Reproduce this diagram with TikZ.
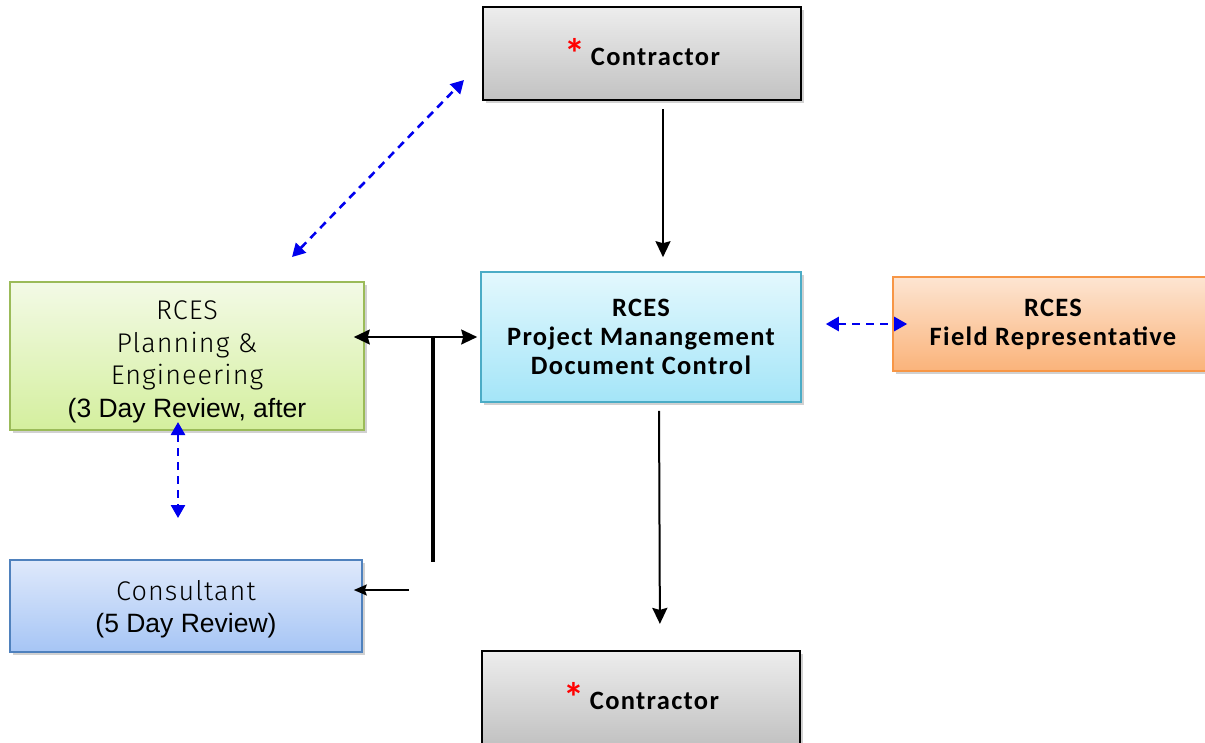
\documentclass[tikz,border=0pt]{standalone}
\usepackage{fontspec}
\setmainfont{Carlito}
\newfontfamily\bfont{Carlito}[LetterSpace=5]
\newfontfamily\lightfont{Fira Sans Light}[LetterSpace=4]
\newfontfamily\arialfont{Liberation Sans}
\usetikzlibrary{arrows.meta,shadows}
\definecolor{grayT}{HTML}{EDEDED}
\definecolor{grayB}{HTML}{C2C2C2}
\definecolor{greenT}{HTML}{F3FAE6}
\definecolor{greenB}{HTML}{D4EF9E}
\definecolor{greenD}{HTML}{9BBB59}
\definecolor{cyanT}{HTML}{E3F8FD}
\definecolor{cyanB}{HTML}{A4E5F8}
\definecolor{cyanD}{HTML}{4BACC6}
\definecolor{orT}{HTML}{FDE5D2}
\definecolor{orB}{HTML}{FAB37A}
\definecolor{orD}{HTML}{F79646}
\definecolor{blT}{HTML}{DFE9FB}
\definecolor{blB}{HTML}{A6C5F5}
\definecolor{blD}{HTML}{4F81BD}
\definecolor{dashblue}{HTML}{0000EE}
\begin{document}
\begin{tikzpicture}[x=1pt,y=-1pt,
  box/.style={rectangle, inner sep=0pt, align=center, line width=1.6pt,
    drop shadow={shadow xshift=2.5pt, shadow yshift=-3pt, opacity=0.3, fill=black!60}},
  ctrbox/.style={box, draw=black, line width=2.2pt, top color=grayT, bottom color=grayB,
    minimum width=318pt, minimum height=93pt},
  greenbox/.style={box, draw=greenD, top color=greenT, bottom color=greenB,
    minimum width=354pt, minimum height=148pt},
  cyanbox/.style={box, draw=cyanD, top color=cyanT, bottom color=cyanB,
    minimum width=320pt, minimum height=130pt},
  orbox/.style={box, draw=orD, top color=orT, bottom color=orB,
    minimum width=320pt, minimum height=94pt},
  blbox/.style={box, draw=blD, top color=blT, bottom color=blB,
    minimum width=352pt, minimum height=92pt},
  btxt/.style={font=\bfont\bfseries\fontsize{26.5}{29}\selectfont},
  ltxt/.style={font=\lightfont\fontsize{27}{32.5}\selectfont},
  bighead/.tip={Stealth[length=16pt,width=15pt,inset=2pt]},
  smallhead/.tip={Stealth[length=13pt,width=11pt,inset=2pt]},
  solidarrow/.style={line width=2pt, -bighead},
  dasharrow/.style={dashblue, line width=2.6pt, dash pattern=on 8pt off 6pt,
    {Triangle[length=13pt,width=14pt]}-{Triangle[length=13pt,width=14pt]}}
]
\useasboundingbox (0,0) rectangle (1205,742);

\newcommand{\ctrtext}{{\color{red}\fontsize{42}{42}\selectfont\raisebox{-3pt}{*}}\hspace{6pt}Contractor}

\node[ctrbox, btxt] (top) at (642,53.5) {\raisebox{-2pt}{\ctrtext}};
\node[cyanbox, btxt] (mid) at (641,337) {RCES\\Project Manangement\\Document Control};
\node[orbox, btxt] (field) at (1053,324) {RCES\\Field Representative};
\node[greenbox, ltxt] (plan) at (187,356) {\rule{0pt}{30pt}RCES\\Planning \&\\Engineering\\{\arialfont\fontsize{26.5}{32.5}\selectfont (3 Day Review, after}};
\node[blbox, ltxt] (cons) at (186,606) {\rule{0pt}{26pt}Consultant\\{\arialfont\fontsize{26.5}{32.5}\selectfont (5 Day Review)}};
\node[ctrbox, btxt] (bot) at (641,697.5) {\ctrtext};

% solid connectors
\draw[solidarrow, shorten <=8pt, shorten >=14pt] ([xshift=21pt]top.south) -- ([xshift=22pt]mid.north);
\draw[solidarrow, shorten <=8pt, shorten >=26pt] ([xshift=18pt]mid.south) -- ([xshift=19pt]bot.north);
\draw[line width=2pt, bighead-bighead, shorten <=-11pt, shorten >=3pt]
  (plan.east |- mid.west) -- (mid.west);
\coordinate (j1) at (433,337);
\coordinate (j2) at (433,562);
\draw[line width=4.5pt] (j1) -- (j2);
\coordinate (c1) at (409,590);
\draw[line width=2pt, -smallhead, shorten >=-9pt] (c1) -- (c1 -| cons.east);

% dashed blue connectors
\coordinate (d1) at (292,257);
\coordinate (d2) at (464,80);
\draw[dasharrow] (d1) -- (d2);
\coordinate (v1) at (178,422);
\coordinate (v2) at (178,518);
\draw[dasharrow] (v1) -- (v2);
\draw[dasharrow, shorten <=24pt, shorten >=-15pt] (mid.east |- field.west) -- (field.west);
\end{tikzpicture}
\end{document}
